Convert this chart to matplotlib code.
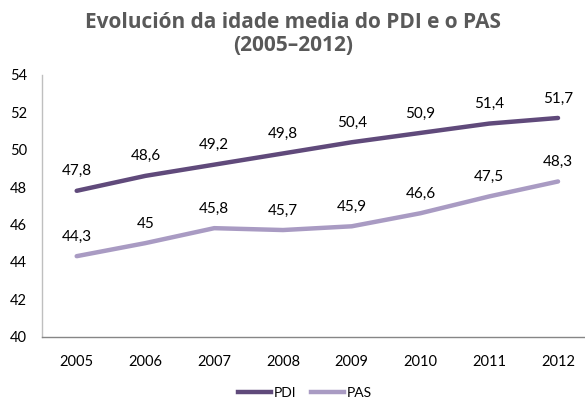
import matplotlib
matplotlib.use("Agg")
import matplotlib.pyplot as plt
from matplotlib.lines import Line2D

years = ["2005", "2006", "2007", "2008", "2009", "2010", "2011", "2012"]
pdi = [47.8, 48.6, 49.2, 49.8, 50.4, 50.9, 51.4, 51.7]
pas = [44.3, 45.0, 45.8, 45.7, 45.9, 46.6, 47.5, 48.3]
pdi_labels = ["47,8", "48,6", "49,2", "49,8", "50,4", "50,9", "51,4", "51,7"]
pas_labels = ["44,3", "45", "45,8", "45,7", "45,9", "46,6", "47,5", "48,3"]
yticks = [40, 42, 44, 46, 48, 50, 52, 54]

W, H = 585, 408
fig = plt.figure(figsize=(W / 100, H / 100), dpi=100)
fig.patch.set_facecolor("white")

left, right = 42.3, 592.4
top, bottom = 75, 336.5
ax = fig.add_axes([left / W, 1 - bottom / H, (right - left) / W, (bottom - top) / H])
ax.set_facecolor("white")

c_pdi = "#604A7B"
c_pas = "#A99BC3"
x = list(range(len(years)))
ax.plot(x, pdi, color=c_pdi, lw=3.2, solid_capstyle="round", clip_on=False)
ax.plot(x, pas, color=c_pas, lw=3.2, solid_capstyle="round", clip_on=False)

font = "Lato"
for xi, v, lab in zip(x, pdi, pdi_labels):
    ax.annotate(lab, (xi, v), xytext=(0, 9), textcoords="offset points",
                ha="center", va="bottom", fontsize=11, family=font, color="#000000")
for xi, v, lab in zip(x, pas, pas_labels):
    ax.annotate(lab, (xi, v), xytext=(0, 9), textcoords="offset points",
                ha="center", va="bottom", fontsize=11, family=font, color="#000000")

ax.set_xlim(-0.5, len(years) - 0.5)
ax.set_ylim(40, 54)
ax.set_xticks(x)
ax.set_xticklabels(years, family=font, fontsize=10.5)
ax.set_yticks(yticks)
ax.set_yticklabels([str(t) for t in yticks], family=font, fontsize=10.5)
ax.tick_params(axis="both", length=0)
ax.tick_params(axis="x", pad=13)
ax.tick_params(axis="y", pad=11)

for s in ["top", "right"]:
    ax.spines[s].set_visible(False)
ax.spines["left"].set_color("#BFBFBF")
ax.spines["left"].set_linewidth(1.0)
ax.spines["bottom"].set_color("#868686")
ax.spines["bottom"].set_linewidth(1.0)

title_kw = dict(ha="center", va="baseline", fontsize=15, fontweight="bold",
                family=["Open Sans", "DejaVu Sans"], color="#595959")
fig.text(293 / W, 1 - 28 / H, "Evolución da idade media do PDI e o PAS", **title_kw)
fig.text(293 / W, 1 - 51 / H, "(2005–2012)", **title_kw)

handles = [Line2D([0], [0], color=c_pdi, lw=3.2),
           Line2D([0], [0], color=c_pas, lw=3.2)]
fig.legend(handles, ["PDI", "PAS"], loc="center", bbox_to_anchor=(305 / W, 1 - 393 / H),
           ncol=2, frameon=False, prop={"family": font, "size": 10},
           handlelength=2.4, handletextpad=0.2, columnspacing=1.0)

fig.savefig("out.png", dpi=100, facecolor="white")
